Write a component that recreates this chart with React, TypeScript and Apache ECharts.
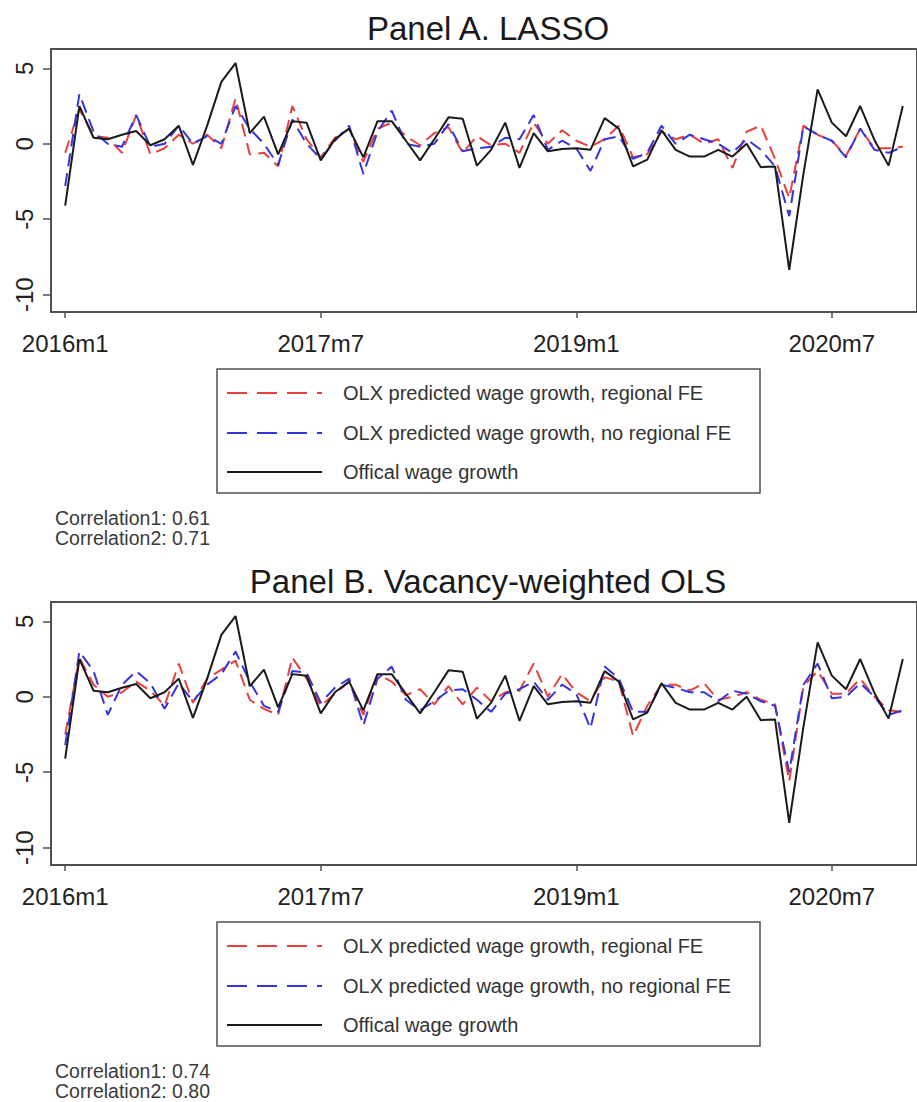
import React, { useEffect, useRef } from 'react';
import * as echarts from 'echarts';

// x tick positions (month index from 2016m1) and labels
const tickIdx = [0, 18, 36, 54];
const tickLabels = ['2016m1', '2017m7', '2019m1', '2020m7'];
const yTicks = [-10, -5, 0, 5];

const seriesNames = [
  'OLX predicted wage growth, regional FE',
  'OLX predicted wage growth, no regional FE',
  'Offical wage growth',
];

const panelTitles = ['Panel A. LASSO', 'Panel B. Vacancy-weighted OLS'];
const correlationsA = ['Correlation1: 0.61', 'Correlation2: 0.71'];
const correlationsB = ['Correlation1: 0.74', 'Correlation2: 0.80'];

// Official wage growth, 2016m1..2020m12
const official = [
  -4.1, 2.5, 0.4, 0.3, 0.6, 0.85, -0.1, 0.3, 1.2, -1.4,
  1.2, 4.1, 5.35, 0.7, 1.8, -0.7, 1.5, 1.4, -1.1, 0.3,
  1.0, -0.9, 1.5, 1.5, 0.2, -1.1, 0.3, 1.75, 1.66, -1.45,
  -0.4, 1.4, -1.6, 0.7, -0.5, -0.35, -0.3, -0.4, 1.7, 1.0,
  -1.5, -1.05, 0.9, -0.4, -0.85, -0.85, -0.4, -0.85, 0.0, -1.55,
  -1.5, -8.35, -2.0, 3.6, 1.4, 0.5, 2.5, 0.25, -1.45, 2.5,
];

// Panel A (LASSO)
const lassoFE = [
  -0.6, 2.3, 0.5, 0.4, -0.6, 1.9, -0.7, -0.3, 0.6, 0.0,
  0.6, -0.3, 3.0, -0.7, -0.6, -1.5, 2.5, 0.3, -0.9, 0.4,
  1.0, -1.2, 1.0, 1.4, 0.5, -0.1, 0.7, 1.1, -0.6, 0.5,
  -0.1, 0.0, -0.6, 1.4, 0.0, 0.9, 0.2, -0.2, 0.3, 1.2,
  -0.9, -0.7, 0.8, 0.3, 0.6, 0.0, 0.3, -1.6, 0.8, 1.2,
  -1.0, -3.6, 1.2, 0.6, 0.2, -0.8, 1.0, -0.3, -0.3, -0.2,
];
const lassoNoFE = [
  -2.8, 3.3, 0.8, 0.0, -0.2, 1.9, -0.2, 0.0, 1.2, 0.0,
  0.5, 0.0, 2.5, 1.0, 0.0, -1.4, 1.6, 0.0, -1.0, 0.2,
  1.2, -2.0, 0.8, 2.2, 0.0, -0.2, 0.0, 1.3, -0.5, -0.3,
  -0.2, 0.4, 0.3, 1.9, -0.4, 0.2, -0.3, -1.8, 0.3, 0.5,
  -1.0, -0.6, 1.2, 0.0, 0.6, 0.3, 0.0, -0.6, 0.3, -0.4,
  -1.5, -4.8, 1.15, 0.6, 0.2, -0.9, 1.0, -0.4, -0.6, -0.2,
];

// Panel B (Vacancy-weighted OLS)
const olsFE = [
  -2.5, 2.6, 0.8, 0.0, 0.3, 1.0, 0.4, -0.6, 2.2, -0.4,
  1.2, 1.8, 2.4, -0.2, -0.8, -1.2, 2.6, 1.2, -0.6, 0.2,
  1.0, -1.2, 1.5, 1.0, 0.1, 0.5, -0.5, 0.7, -0.5, 0.6,
  -0.3, 0.3, 0.4, 2.2, 0.0, 1.5, 0.3, -0.3, 1.3, 1.0,
  -2.6, -0.6, 0.8, 0.8, 0.4, 0.9, -0.2, 0.0, 0.3, -0.2,
  -0.5, -5.6, 0.7, 1.7, 0.2, 0.2, 1.2, 0.0, -0.9, -1.0,
];
const olsNoFE = [
  -3.2, 3.0, 1.7, -1.2, 0.8, 1.7, 0.9, -0.8, 0.9, -0.3,
  0.8, 1.5, 3.0, 1.0, -0.6, -1.0, 1.7, 1.6, -0.4, 0.6,
  1.2, -1.9, 1.2, 2.0, -0.2, -0.9, -0.3, 0.4, 0.5, -0.2,
  -1.0, 0.2, 0.5, 1.0, -0.2, 0.8, 0.2, -2.1, 2.0, 1.2,
  -1.0, -1.0, 0.8, 0.6, 0.3, 0.3, -0.3, 0.4, 0.2, -0.3,
  -0.6, -5.0, 0.8, 2.2, -0.1, 0.0, 0.9, 0.0, -1.2, -0.9,
];

const FONT = '"Liberation Sans", Arial, Helvetica, sans-serif';
const RED = '#e8403c';
const BLUE = '#3535e0';
const BLACK = '#1a1a1a';
const FRAME = '#505050';

const PANEL_OFFSET = 553;
const GRID_TOP = 49;
const GRID_H = 263;

const toPairs = (arr: number[]) => arr.map((v, i) => [i, v]);

export default function App() {
  const ref = useRef<HTMLDivElement>(null);

  useEffect(() => {
    if (!ref.current) return;
    const chart = echarts.init(ref.current, null, { renderer: 'svg' });

    const panels = [
      { fe: lassoFE, nofe: lassoNoFE, corr: correlationsA },
      { fe: olsFE, nofe: olsNoFE, corr: correlationsB },
    ];

    const grids = panels.map((_, p) => ({
      left: 51,
      top: GRID_TOP + p * PANEL_OFFSET,
      width: 874,
      height: GRID_H,
      show: true,
      borderColor: FRAME,
      borderWidth: 2,
      backgroundColor: 'transparent',
    }));

    const xAxes = panels.map((_, p) => ({
      gridIndex: p,
      type: 'value',
      min: -1,
      max: 60,
      axisLine: { show: true, onZero: false, lineStyle: { color: FRAME, width: 2 } },
      splitLine: { show: false },
      axisTick: {
        show: true,
        inside: false,
        length: 6,
        customValues: tickIdx,
        lineStyle: { color: FRAME, width: 1.5 },
      },
      axisLabel: {
        customValues: tickIdx,
        formatter: (v: number) => tickLabels[tickIdx.indexOf(v)] ?? '',
        fontSize: 24,
        color: '#222',
        margin: 19,
        fontFamily: FONT,
      },
    }));

    const yAxes = panels.map((_, p) => ({
      gridIndex: p,
      type: 'value',
      min: -11.15,
      max: 6.28,
      axisLine: { show: true, onZero: false, lineStyle: { color: FRAME, width: 2 } },
      splitLine: { show: false },
      axisTick: {
        show: true,
        inside: false,
        length: 8,
        customValues: yTicks,
        lineStyle: { color: FRAME, width: 1.5 },
      },
      axisLabel: {
        customValues: yTicks,
        rotate: 90,
        fontSize: 24,
        color: '#222',
        margin: 15,
        fontFamily: FONT,
      },
    }));

    const series: any[] = [];
    panels.forEach((pn, p) => {
      series.push({
        name: seriesNames[0],
        type: 'line',
        xAxisIndex: p,
        yAxisIndex: p,
        data: toPairs(pn.fe),
        symbol: 'none',
        lineStyle: { color: RED, width: 2, type: [13, 7] },
        z: 2,
      });
      series.push({
        name: seriesNames[1],
        type: 'line',
        xAxisIndex: p,
        yAxisIndex: p,
        data: toPairs(pn.nofe),
        symbol: 'none',
        lineStyle: { color: BLUE, width: 2, type: [13, 7] },
        z: 3,
      });
      series.push({
        name: seriesNames[2],
        type: 'line',
        xAxisIndex: p,
        yAxisIndex: p,
        data: toPairs(official),
        symbol: 'none',
        lineStyle: { color: BLACK, width: 2 },
        z: 4,
      });
    });

    const graphics: any[] = [];
    const legendColors = [RED, BLUE, BLACK];
    const legendDash: any[] = [[20, 10], [20, 10], null];
    panels.forEach((pn, p) => {
      const dy = p * PANEL_OFFSET;
      graphics.push({
        type: 'text',
        x: 488,
        y: 28 + dy,
        style: {
          text: panelTitles[p],
          fontSize: 33,
          fontFamily: FONT,
          fill: '#1a1a1a',
          textAlign: 'center',
          textVerticalAlign: 'middle',
        },
      });
      graphics.push({
        type: 'rect',
        shape: { x: 217, y: 369 + dy, width: 543, height: 124 },
        style: { fill: '#fff', stroke: FRAME, lineWidth: 1.5 },
      });
      const rows = [393, 433, 472];
      rows.forEach((ry, k) => {
        graphics.push({
          type: 'line',
          shape: { x1: 227, y1: ry + dy, x2: 322, y2: ry + dy },
          style: {
            stroke: legendColors[k],
            lineWidth: 2,
            lineDash: legendDash[k] || undefined,
          },
        });
        graphics.push({
          type: 'text',
          x: 343,
          y: ry + dy,
          style: {
            text: seriesNames[k],
            fontSize: 20,
            fontFamily: FONT,
            fill: '#333',
            textVerticalAlign: 'middle',
          },
        });
      });
      pn.corr.forEach((t, k) => {
        graphics.push({
          type: 'text',
          x: 55,
          y: 518 + k * 20 + dy,
          style: {
            text: t,
            fontSize: 19.5,
            fontFamily: FONT,
            fill: '#3a3a3a',
            textVerticalAlign: 'middle',
          },
        });
      });
    });

    chart.setOption({
      animation: false,
      backgroundColor: '#ffffff',
      grid: grids,
      xAxis: xAxes,
      yAxis: yAxes,
      series,
      graphic: graphics,
    });

    return () => chart.dispose();
  }, []);

  return (
    <div
      ref={ref}
      style={{ position: 'absolute', left: 0, top: 0, width: 917, height: 1102 }}
    />
  );
}
